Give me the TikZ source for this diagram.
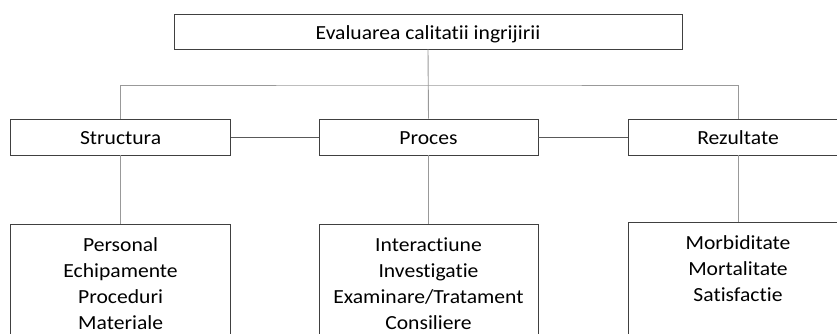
\documentclass[tikz,border=0pt]{standalone}
\usepackage{fontspec}
\setmainfont[RawFeature=-liga, FakeStretch=1.08]{Carlito}
\begin{document}
\begin{tikzpicture}[x=1pt,y=1pt,
  box/.style={draw=black!75, line width=0.9pt, fill=white, inner sep=0pt, font=\fontsize{20}{26}\selectfont},
  onebox/.style={box, text height=17.6pt, text depth=1.6pt},
  conn/.style={draw=black!40, line width=0.9pt},
  connd/.style={draw=black!65, line width=0.9pt},
  listbox/.style={box, anchor=north, inner xsep=0pt, inner ysep=9pt}]
\useasboundingbox (0,0) rectangle (837,334);
\node[onebox, minimum width=508, minimum height=35] (top) at (428,302.5) {Evaluarea calitatii ingrijirii};
\node[onebox, minimum width=220, minimum height=36] (s) at (120.6,197) {Structura};
\node[onebox, minimum width=219, minimum height=36] (p) at (428.5,197) {Proces};
\node[onebox, minimum width=220, minimum height=36] (r) at (738,197) {Rezultate};
\node[listbox] (sl) at (120.6,110) {\parbox[t][140pt][t]{220pt}{\centering\strut Personal\\Echipamente\\Proceduri\\Materiale}};
\node[listbox] (pl) at (428.5,110) {\parbox[t][140pt][t]{219pt}{\centering\strut Interactiune\\Investigatie\\Examinare/Tratament\\Consiliere}};
\node[listbox] (rl) at (738,112) {\parbox[t][140pt][t]{220pt}{\centering\strut Morbiditate\\Mortalitate\\Satisfactie}};
\coordinate (hy) at (0,249);
\draw[conn] (top.south) -- (p.north);
\draw[conn] (s.north) |- (hy -| p.north) -| (r.north);
\draw[connd] (s.east) -- (p.west);
\draw[connd] (p.east) -- (r.west);
\draw[conn] (s.south) -- (sl.north);
\draw[conn] (p.south) -- (pl.north);
\draw[conn] (r.south) -- (rl.north);
\end{tikzpicture}
\end{document}
